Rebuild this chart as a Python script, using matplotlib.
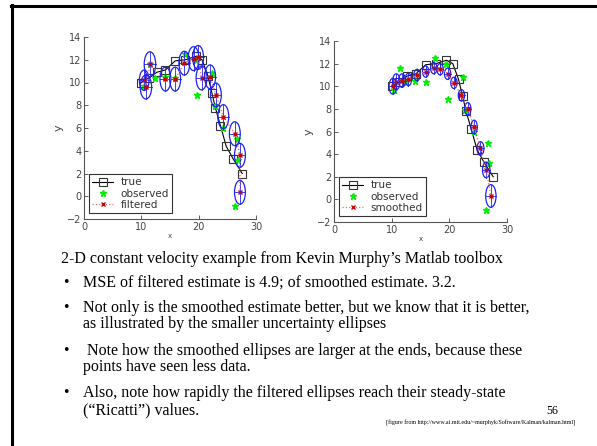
import numpy as np
import matplotlib.pyplot as plt
from matplotlib.patches import Ellipse
from matplotlib.lines import Line2D

# True trajectory (black squares)
true_x = [10.0, 11.3, 12.7, 14.2, 15.9, 17.7, 19.5, 20.6, 21.6, 22.3, 22.9, 23.8, 24.8, 26.0, 27.6]
true_y = [10.0, 10.4, 10.9, 11.1, 11.9, 12.0, 12.3, 12.0, 10.6, 9.1, 7.8, 6.2, 4.4, 3.3, 2.0]

# Noisy observations (green stars)
obs_x = [10.4, 11.5, 12.4, 14.1, 15.9, 17.6, 19.5, 19.7, 22.3, 22.8, 24.2, 26.7, 26.9, 26.3]
obs_y = [9.7, 11.6, 10.4, 10.5, 10.4, 12.5, 12.0, 8.9, 10.8, 7.9, 6.0, 5.0, 3.2, -0.9]

# Filtered estimates and ellipse half-widths (x) / half-heights (y)
filt_x = [10.5, 10.8, 11.5, 14.2, 15.9, 17.5, 19.1, 19.9, 20.5, 22.0, 23.0, 24.3, 26.3, 27.2, 27.2]
filt_y = [10.2, 9.6, 11.6, 10.3, 10.3, 11.7, 12.1, 12.2, 10.4, 10.5, 8.9, 7.0, 5.5, 3.6, 0.35]
filt_w = [0.85, 1.0, 1.0, 0.95, 0.95, 0.95, 0.95, 0.95, 0.95, 0.95, 0.95, 0.95, 0.95, 0.95, 0.95]
filt_h = [0.9, 1.05, 1.1, 1.05, 1.05, 1.05, 1.05, 1.05, 1.05, 1.05, 1.05, 1.05, 1.05, 1.05, 1.05]

# Smoothed estimates and ellipse sizes
smooth_x = [10.2, 10.8, 11.8, 12.9, 14.4, 15.9, 17.3, 18.4, 19.7, 20.8, 22.1, 23.2, 24.3, 25.4, 26.4, 27.2]
smooth_y = [10.0, 10.4, 10.5, 10.6, 11.0, 11.3, 11.6, 11.5, 11.1, 10.3, 9.2, 8.0, 6.4, 4.5, 2.6, 0.3]
smooth_w = [0.65, 0.65, 0.6, 0.55, 0.55, 0.55, 0.55, 0.55, 0.55, 0.55, 0.55, 0.55, 0.55, 0.6, 0.65, 0.9]
smooth_h = [0.7, 0.7, 0.6, 0.55, 0.5, 0.5, 0.5, 0.5, 0.5, 0.5, 0.5, 0.55, 0.6, 0.6, 0.7, 1.0]

yticks = [-2, 0, 2, 4, 6, 8, 10, 12, 14]
xticks = [0, 10, 20, 30]

title_line = "2-D constant velocity example from Kevin Murphy\u2019s Matlab toolbox"
bullets = [
    ["MSE of filtered estimate is 4.9; of smoothed estimate. 3.2."],
    ["Not only is the smoothed estimate better, but we know that it is better,",
     "as illustrated by the smaller uncertainty ellipses"],
    [" Note how the smoothed ellipses are larger at the ends, because these",
     "points have seen less data."],
    ["Also, note how rapidly the filtered ellipses reach their steady-state",
     "(\u201cRicatti\u201d) values."],
]
page_no = "56"
source = "[figure from http://www.ai.mit.edu/~murphyk/Software/Kalman/kalman.html]"

W, H = 597, 446
fig = plt.figure(figsize=(W / 100, H / 100), dpi=100)
fig.patch.set_facecolor('white')

def fx(px):
    return px / W

def fy(py):
    return 1 - py / H

def draw_panel(ax, ex, ey, ew, eh, est_label):
    ax.plot(true_x, true_y, '-', color='black', lw=0.8, marker='s', ms=5.5,
            mfc='none', mec='#333333', mew=0.8, label='true', zorder=3)
    ax.plot(obs_x, obs_y, '*', color='#00ee00', ms=5, ls='none', label='observed', zorder=4)
    ax.plot(ex, ey, ':', color='#e07070', lw=0.9, marker='x', ms=3, mec='#cc0000',
            label=est_label, zorder=5)
    for cx, cy, w, h in zip(ex, ey, ew, eh):
        ax.add_patch(Ellipse((cx, cy), 2 * w, 2 * h, fill=False, ec='#2020ee', lw=0.9, zorder=4))
        ax.plot([cx - w, cx + w], [cy, cy], color='#2020ee', lw=0.6, zorder=4)
        ax.plot([cx, cx], [cy - h, cy + h], color='#2020ee', lw=0.6, zorder=4)
    ax.set_xlim(0, 30)
    ax.set_ylim(-2, 14)
    ax.set_xticks(xticks)
    ax.set_yticks(yticks)
    ax.tick_params(direction='in', length=3, width=0.6, labelsize=7, colors='#444444',
                   pad=2)
    for s in ['top', 'right']:
        ax.spines[s].set_visible(False)
    for s in ['left', 'bottom']:
        ax.spines[s].set_color('#555555')
        ax.spines[s].set_linewidth(0.8)
    ax.set_ylabel('y', fontsize=8, color='#444444', labelpad=2)
    ax.set_xlabel('x', fontsize=5, color='#444444', labelpad=1)
    leg = ax.legend(loc='lower left', bbox_to_anchor=(0.03, 0.033), fontsize=7.5,
                    frameon=True, fancybox=False, edgecolor='#333333', framealpha=1,
                    handlelength=2.0, handletextpad=0.7, borderpad=0.3,
                    labelspacing=0.12, borderaxespad=0)
    leg.get_frame().set_linewidth(0.8)
    for t in leg.get_texts():
        t.set_color('#333333')

ax1 = fig.add_axes([fx(84), fy(219), fx(256) - fx(84), fy(37) - fy(219)])
draw_panel(ax1, filt_x, filt_y, filt_w, filt_h, 'filtered')
ax2 = fig.add_axes([fx(334), fy(222), fx(507) - fx(334), fy(41) - fy(222)])
draw_panel(ax2, smooth_x, smooth_y, smooth_w, smooth_h, 'smoothed')

serif = 'Liberation Serif'
fs = 11.5
fig.text(fx(61), fy(259), title_line, family=serif, fontsize=fs, va='center')
line_y = [[283], [308, 324], [351, 367], [393, 410]]
for lines, ys in zip(bullets, line_y):
    fig.text(fx(63), fy(ys[0]), '\u2022', family=serif, fontsize=fs, va='center')
    for txt, yy in zip(lines, ys):
        fig.text(fx(83), fy(yy), txt, family=serif, fontsize=fs, va='center')

fig.text(fx(552), fy(411), page_no, family=serif, fontsize=8.5, va='center', ha='center')
fig.text(fx(575), fy(423), source, family=serif, fontsize=4.3, va='center', ha='right')

# slide frame: thick line on top and left
fig.add_artist(Line2D([fx(11), fx(W)], [fy(6), fy(6)], transform=fig.transFigure,
                      color='black', lw=2.2))
fig.add_artist(Line2D([fx(12), fx(12)], [fy(5), fy(H)], transform=fig.transFigure,
                      color='black', lw=2.2))

fig.savefig('out.png', dpi=100)
